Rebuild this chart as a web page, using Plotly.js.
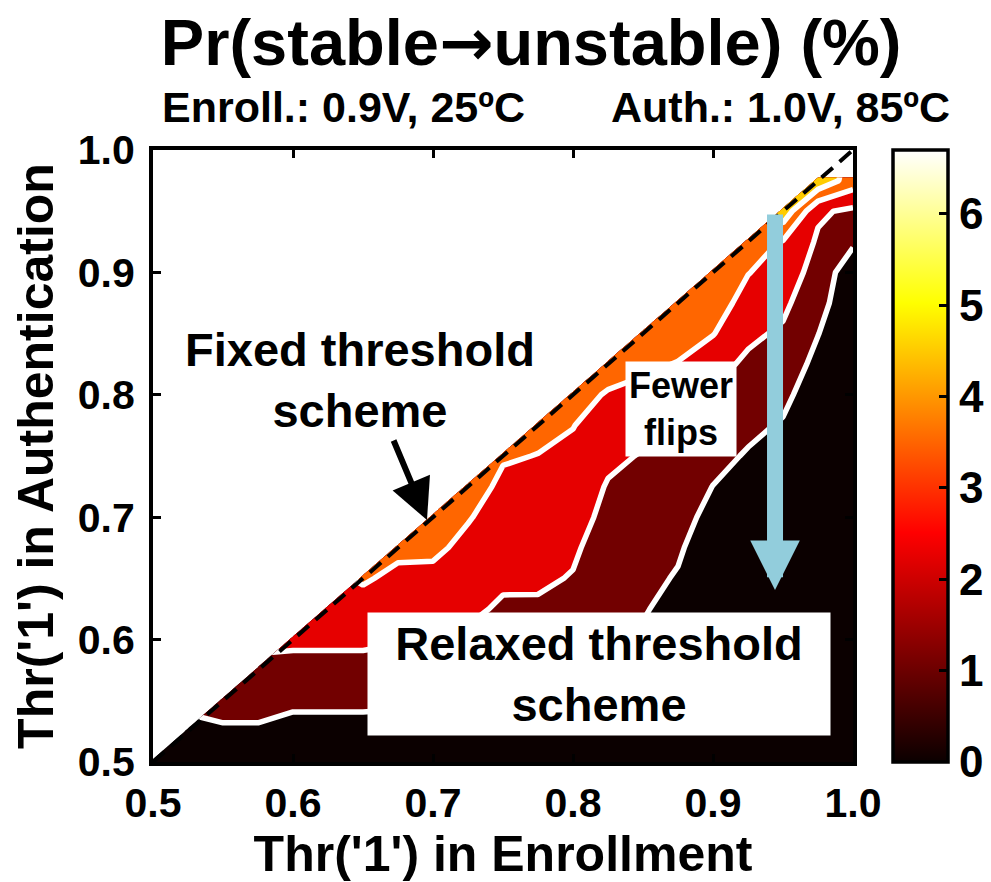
<!DOCTYPE html>
<html>
<head>
<meta charset="utf-8">
<script src="https://cdn.plot.ly/plotly-3.0.1.min.js"></script>
<style>
html,body{margin:0;padding:0;background:#ffffff;}
#chart{width:991px;height:882px;}
</style>
</head>
<body>
<div id="chart"></div>
<script>
// Threshold of '1' in enrollment (x) and authentication (y)
const thrEnroll = [0.5,0.525,0.55,0.575,0.6,0.625,0.65,0.675,0.7,0.725,0.75,0.775,0.8,0.825,0.85,0.875,0.9,0.925,0.95,0.975,1.0];
const thrAuth   = [0.5,0.525,0.55,0.575,0.6,0.625,0.65,0.675,0.7,0.725,0.75,0.775,0.8,0.825,0.85,0.875,0.9,0.925,0.95,0.975,1.0];
const n = null;
// Pr(stable -> unstable) in %, one row per authentication threshold (undefined above the diagonal)
const prFlip = [
 [0.10,0.15,0.22,0.30,0.20,0.20,0.20,0.19,0.20,0.29,0.46,0.35,0.37,0.49,0.25,0.10,0.08,0.05,0.05,0.04,0.03],
 [n,0.80,0.92,0.95,0.76,0.76,0.76,0.73,0.71,0.73,0.79,0.70,0.66,0.67,0.42,0.15,0.10,0.06,0.05,0.04,0.03],
 [n,n,1.62,1.54,1.32,1.32,1.32,1.27,1.22,1.17,1.10,1.05,0.94,0.86,0.62,0.20,0.12,0.08,0.05,0.05,0.04],
 [n,n,n,2.12,1.88,1.88,1.88,1.81,1.73,1.61,1.44,1.40,1.23,1.04,0.81,0.36,0.15,0.10,0.06,0.05,0.04],
 [n,n,n,n,2.43,2.43,2.43,2.31,2.20,2.05,1.77,1.75,1.52,1.23,1.00,0.58,0.20,0.12,0.08,0.06,0.05],
 [n,n,n,n,n,2.99,2.99,2.72,2.64,2.43,2.10,2.10,1.81,1.41,1.19,0.81,0.25,0.15,0.10,0.07,0.05],
 [n,n,n,n,n,n,3.45,3.14,3.08,2.76,2.39,2.38,2.18,1.60,1.39,1.03,0.35,0.20,0.12,0.08,0.05],
 [n,n,n,n,n,n,n,3.55,3.56,3.08,2.65,2.62,2.37,1.78,1.58,1.25,0.50,0.25,0.15,0.10,0.06],
 [n,n,n,n,n,n,n,n,4.00,3.42,2.91,2.85,2.62,1.97,1.77,1.47,0.81,0.40,0.20,0.12,0.07],
 [n,n,n,n,n,n,n,n,n,3.74,3.17,3.09,2.88,2.15,1.96,1.70,1.10,0.68,0.35,0.15,0.08],
 [n,n,n,n,n,n,n,n,n,n,3.43,3.33,3.13,2.46,2.16,1.92,1.43,1.02,0.67,0.15,0.10],
 [n,n,n,n,n,n,n,n,n,n,n,3.57,3.38,2.87,2.54,2.14,1.74,1.36,1.02,0.25,0.12],
 [n,n,n,n,n,n,n,n,n,n,n,n,3.64,3.28,3.04,2.63,2.05,1.70,1.37,0.51,0.15],
 [n,n,n,n,n,n,n,n,n,n,n,n,n,3.69,3.55,3.30,2.58,2.04,1.72,0.83,0.20],
 [n,n,n,n,n,n,n,n,n,n,n,n,n,n,3.87,3.81,3.40,2.44,2.08,1.14,0.30],
 [n,n,n,n,n,n,n,n,n,n,n,n,n,n,n,4.31,3.91,2.91,2.46,1.46,0.40],
 [n,n,n,n,n,n,n,n,n,n,n,n,n,n,n,n,4.41,3.39,2.87,1.78,0.45],
 [n,n,n,n,n,n,n,n,n,n,n,n,n,n,n,n,n,3.86,3.27,2.09,1.27],
 [n,n,n,n,n,n,n,n,n,n,n,n,n,n,n,n,n,n,5.20,2.40,2.02],
 [n,n,n,n,n,n,n,n,n,n,n,n,n,n,n,n,n,n,n,5.30,3.90],
 [n,n,n,n,n,n,n,n,n,n,n,n,n,n,n,n,n,n,n,n,n]
];
const tickVals = [0.5,0.6,0.7,0.8,0.9,1.0];
const cbarTicks = [0,1,2,3,4,5,6];
const zMax = 6.7;
const levelStep = zMax / 6;

const FONT = "'Liberation Sans', Arial, Helvetica, sans-serif";
const hot = [[0,'rgb(11,0,0)'],[0.375,'rgb(255,0,0)'],[0.75,'rgb(255,255,0)'],[1,'rgb(255,255,255)']];
const bands = [[0,'#0b0000'],[0.2,'#720000'],[0.4,'#e60000'],[0.6,'#ff6600'],[0.8,'#ffcc00'],[1,'#ffff66']];

const traces = [
  {
    type:'heatmap', x:thrEnroll, y:thrAuth, z:prFlip,
    zmin:0, zmax:zMax, colorscale:hot, opacity:0, hoverinfo:'skip',
    showscale:true,
    colorbar:{
      x:1.057, xanchor:'left', xpad:0, ypad:0,
      y:0, yanchor:'bottom', len:1, lenmode:'fraction',
      thickness:55, thicknessmode:'pixels',
      outlinewidth:3.5, outlinecolor:'#000',
      ticks:'inside', ticklen:10, tickwidth:3, tickcolor:'#000',
      tickvals:cbarTicks, ticklabelposition:'outside',
      tickfont:{family:FONT, size:44, color:'#000', weight:'bold'}
    }
  },
  {
    type:'contour', x:thrEnroll, y:thrAuth, z:prFlip,
    connectgaps:false, autocontour:false, showscale:false,
    contours:{start:levelStep, end:5*levelStep, size:levelStep, coloring:'fill', showlines:true},
    colorscale:bands,
    line:{color:'#ffffff', width:5.5, smoothing:0},
    hoverinfo:'skip'
  }
];

const axisCommon = {
  range:[0.5,1.0], tickvals:tickVals, tickformat:'.1f',
  ticks:'inside', ticklen:8, tickwidth:3, tickcolor:'#000',
  showline:true, linewidth:4, linecolor:'#000', mirror:'ticks',
  showgrid:false, zeroline:false,
  tickfont:{family:FONT, size:41, color:'#000', weight:'bold'}
};

const layout = {
  width:991, height:882,
  margin:{l:153, r:138, t:150, b:120, autoexpand:false},
  paper_bgcolor:'#ffffff', plot_bgcolor:'#ffffff',
  font:{family:FONT, color:'#000'},
  showlegend:false,
  title:{text:'Pr(stable<span style="font-family:\'DejaVu Sans\'">\u2192</span>unstable) (%)',
         xref:'container', yref:'container',
         x:0.536, xanchor:'center', y:1-42/882, yanchor:'middle',
         font:{family:FONT, size:65, color:'#000', weight:'bold'}},
  xaxis:Object.assign({}, axisCommon, {
    ticklabelstandoff:2,
    title:{text:"Thr('1') in Enrollment", standoff:10,
           font:{family:FONT, size:50, color:'#000', weight:'bold'}}
  }),
  yaxis:Object.assign({}, axisCommon, {
    ticklabelstandoff:6,
    title:{text:"Thr('1') in Authentication", standoff:9,
           font:{family:FONT, size:50, color:'#000', weight:'bold'}}
  }),
  shapes:[
    {type:'line', xref:'x', yref:'y', x0:0.5, y0:0.5, x1:1.0, y1:1.0, layer:'above',
     line:{color:'#000', width:4, dash:'15px,9px'}}
  ],
  annotations:[
    {text:'Enroll.: 0.9V, 25\u00baC', xref:'paper', yref:'paper', x:0.01, y:1.0703,
     xanchor:'left', yanchor:'middle', showarrow:false,
     font:{family:FONT, size:43, color:'#000', weight:'bold'}},
    {text:'Auth.: 1.0V, 85\u00baC', xref:'paper', yref:'paper', x:1.1414, y:1.0703,
     xanchor:'right', yanchor:'middle', showarrow:false,
     font:{family:FONT, size:43, color:'#000', weight:'bold'}},
    {text:'Fixed threshold<br>scheme', xref:'x', yref:'y', x:0.6475, y:0.812,
     xanchor:'center', yanchor:'middle', showarrow:false,
     font:{family:FONT, size:47, color:'#000', weight:'bold'}},
    {text:'', xref:'x', yref:'y', x:0.6957, y:0.6977, axref:'x', ayref:'y', ax:0.6714, ay:0.7639,
     showarrow:true, arrowhead:2, arrowsize:1.35, arrowwidth:6, arrowcolor:'#000'},
    {text:'Fewer<br>flips', xref:'x', yref:'y', x:0.877, y:0.7888,
     xanchor:'center', yanchor:'middle', showarrow:false, bgcolor:'#ffffff', borderpad:3,
     font:{family:FONT, size:36, color:'#000', weight:'bold'}},
    {text:'Relaxed threshold<br>scheme', xref:'x', yref:'y', x:0.8186, y:0.5719,
     xanchor:'center', yanchor:'middle', showarrow:false, bgcolor:'#ffffff',
     width:452, height:112, borderpad:5,
     font:{family:FONT, size:47, color:'#000', weight:'bold'}},
    {text:'', xref:'x', yref:'y', x:0.9443, y:0.6405, axref:'x', ayref:'y', ax:0.9443, ay:0.9485,
     showarrow:true, arrowhead:2, arrowsize:0.62, arrowwidth:16, arrowcolor:'#92cddc'}
  ]
};

Plotly.newPlot('chart', traces, layout, {displayModeBar:false, staticPlot:true});
</script>
</body>
</html>
